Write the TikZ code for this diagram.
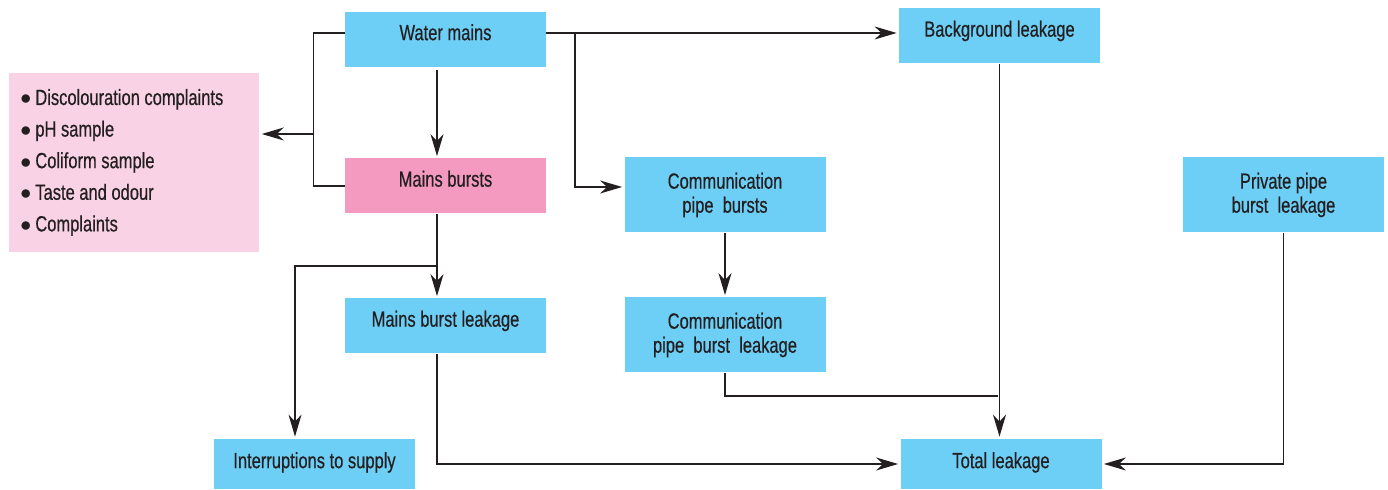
\documentclass[tikz,border=0pt]{standalone}
\usepackage{fontspec}
\setmainfont{Liberation Sans}[FakeStretch=0.75,FakeBold=0.5]
\usetikzlibrary{arrows.meta}
\definecolor{boxblue}{HTML}{6DCFF6}
\definecolor{boxpink}{HTML}{F49AC1}
\definecolor{listpink}{HTML}{F9D3E5}
\definecolor{ink}{HTML}{231F20}
\newcommand{\itm}{$\bullet$\kern2pt}

\begin{document}
\begin{tikzpicture}
            [x=0.5pt,y=-0.5pt,
             font=\fontsize{11}{16}\selectfont,
             blk/.style={fill=boxblue,text=ink,align=center,inner sep=0pt,
               minimum width=100.5pt,minimum height=27.5pt},
             box/.style={blk,text depth=7.3pt},
             tall/.style={blk,minimum height=37.5pt,font=\fontsize{11}{12}\selectfont},
             flat/.style={blk,minimum height=25pt,text depth=3.8pt},
             line/.style={draw=ink,line width=0.65pt},
             arr/.style={line,-{Stealth[length=11pt,width=6.5pt,inset=3.5pt]},shorten >=1pt}]
            \useasboundingbox (0,0) rectangle (1388,490);

            \node[box] (wm) at (445.5,39.5) {Water mains};
            \node[box,fill=boxpink] (mb) at (445.5,186) {Mains bursts};
            \node[box] (bg) at (999.5,36) {Background leakage};
            \node[tall] (cpb) at (725,195) {Communication\\pipe\ \ bursts};
            \node[tall] (ppb) at (1283.5,195) {Private pipe\\burst\ \ leakage};
            \node[box] (mbl) at (445.5,326) {Mains burst leakage};
            \node[tall] (cpbl) at (725,335) {Communication\\pipe\ \ burst\ \ leakage};
            \node[flat] (int) at (314.5,464) {Interruptions to supply};
            \node[flat] (tot) at (1001,464) {Total leakage};
            \node[fill=listpink,text=ink,align=flush left,anchor=west,inner xsep=5.5pt,
              text width=114pt,minimum height=89.5pt,
              font=\fontsize{11}{15.8}\selectfont] (list) at (9,162.5)
              {\itm Discolouration complaints\\\itm pH sample\\\itm Coliform sample\\
               \itm Taste and odour\\\itm Complaints};

            \coordinate (lj) at (314,134);
            \coordinate (rj) at (575,33);
            \coordinate (mj) at (437,266);
            \coordinate (tj) at (998,396);

            \draw[line] ([yshift=3.25pt]wm.west) -| ([xshift=-15.5pt]mb.west) -- (mb.west);
            \draw[arr] (lj) -- (lj -| list.east);
            \draw[arr] ([xshift=-4.25pt,yshift=-1.5pt]wm.south) -- ([xshift=-4.25pt]mb.north);
            \draw[arr] ([yshift=3.25pt]wm.east) -- ([yshift=3.25pt]wm.east -| bg.west);
            \draw[arr] (rj) |- ([yshift=4pt]cpb.west);
            \draw[arr] (cpb) -- (cpbl);
            \draw[line] ([xshift=-4.25pt]mb.south) -- (mj);
            \draw[arr] (mj) -- (mj |- mbl.north);
            \draw[arr] (mj) -| ([xshift=-9.75pt]int.north);
            \draw[arr] ([xshift=-4.25pt]mbl.south) |- (tot.west);
            \draw[arr] (bg.south) -- (bg.south |- tot.north);
            \draw[line] (cpbl.south) |- (tj);
            \draw[arr] (ppb.south) |- (tot.east);
          \end{tikzpicture}
\end{document}
